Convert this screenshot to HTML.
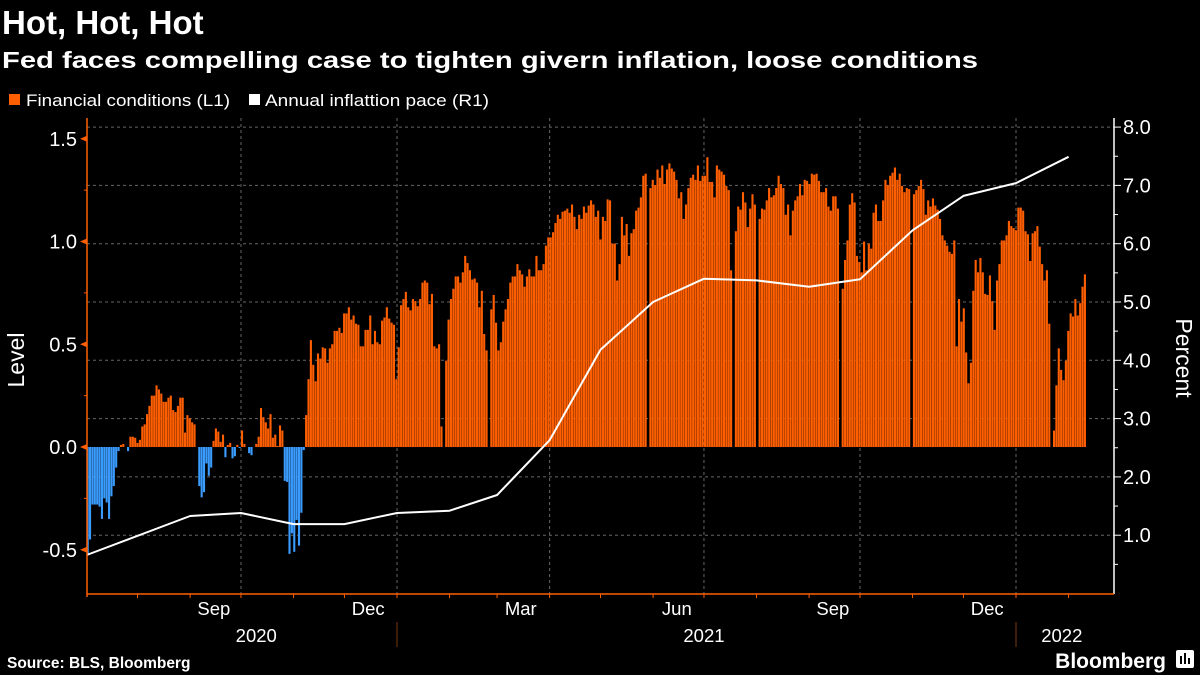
<!DOCTYPE html>
<html><head><meta charset="utf-8"><style>
html,body{margin:0;padding:0;background:#000;}
svg{display:block;font-family:"Liberation Sans",sans-serif;}
</style></head><body>
<svg id="chart" width="1200" height="675" viewBox="0 0 1200 675" xmlns="http://www.w3.org/2000/svg">
<rect width="1200" height="675" fill="#000"/>
<text x="2" y="34" fill="#fff" font-size="33" font-weight="bold">Hot, Hot, Hot</text>
<text x="2" y="68" fill="#fff" font-size="23.5" font-weight="bold" textLength="976" lengthAdjust="spacingAndGlyphs">Fed faces compelling case to tighten givern inflation, loose conditions</text>
<g>
<g><rect x="9" y="94" width="11" height="11" fill="#ff5f00"/><text x="26" y="106" fill="#fff" font-size="16.5" textLength="204" lengthAdjust="spacingAndGlyphs">Financial conditions (L1)</text></g>
<g><rect x="249" y="94" width="11" height="11" fill="#fff"/><text x="265" y="106" fill="#fff" font-size="16.5" textLength="224" lengthAdjust="spacingAndGlyphs">Annual inflattion pace (R1)</text></g>
</g>
<g id="grid"></g>
<g id="bars"></g>
<g id="line"></g>
<g id="axes"></g>
<text transform="translate(24,360) rotate(-90)" text-anchor="middle" fill="#fff" font-size="23">Level</text>
<text transform="translate(1176,358) rotate(90)" text-anchor="middle" fill="#fff" font-size="23">Percent</text>
<text x="7" y="668" fill="#fff" font-size="15.5" font-weight="bold">Source: BLS, Bloomberg</text>
<text x="1166" y="668" text-anchor="end" fill="#fff" font-size="21" font-weight="bold">Bloomberg</text>
<g><rect x="1176" y="650" width="18" height="18" rx="2" fill="#fff"/><rect x="1180" y="656" width="2" height="8" fill="#000"/><rect x="1184" y="653" width="2" height="11" fill="#000"/><rect x="1188" y="658" width="2" height="6" fill="#000"/></g>
</svg>
<script>
const fciValues = [-0.52,-0.45,-0.28,-0.28,-0.28,-0.29,-0.35,-0.25,-0.27,-0.35,-0.24,-0.19,-0.10,-0.02,0.01,0.015,0,-0.02,0.05,0.05,0.045,0.02,0.035,0.10,0.11,0.16,0.20,0.25,0.25,0.30,0.28,0.26,0.22,0.22,0.24,0.25,0.18,0.17,0.20,0.24,0.24,0.07,0.155,0.14,0.12,0.11,0,-0.19,-0.245,-0.22,-0.08,-0.14,-0.10,0.03,0.09,0.075,0.025,0.06,-0.05,0.01,0.02,-0.055,-0.045,0.01,-0.005,0.08,0.015,0,-0.03,-0.04,0,0.015,0.05,0.19,0.145,0.12,0.09,0.16,0.045,0.06,0.005,0.105,0.08,-0.165,-0.17,-0.52,-0.42,-0.51,-0.355,-0.48,-0.32,-0.015,0.155,0.33,0.52,0.40,0.32,0.455,0.43,0.485,0.48,0.41,0.48,0.50,0.565,0.565,0.58,0.555,0.65,0.65,0.68,0.62,0.64,0.60,0.595,0.49,0.49,0.57,0.57,0.64,0.50,0.565,0.51,0.50,0.615,0.63,0.68,0.625,0.605,0.595,0.33,0.485,0.69,0.72,0.755,0.68,0.665,0.72,0.71,0.685,0.72,0.80,0.81,0.80,0.695,0.745,0.49,0.48,0.50,0.10,0,0.42,0.62,0.72,0.77,0.83,0.83,0.80,0.85,0.93,0.895,0.86,0.815,0.82,0.80,0.68,
0.76,0.55,0.47,0,0.67,0.74,0.605,0.47,0.51,0.61,0.67,0.72,0.80,0.83,0.83,0.89,0.86,0.84,0.78,0.83,0.865,0.83,0.83,0.93,0.86,0.86,0.89,0.98,1.02,1.02,1.045,1.09,1.13,1.11,1.145,1.15,1.16,1.14,1.18,1.12,1.06,1.13,1.11,1.17,1.14,1.175,1.20,1.18,1.12,1.15,1.01,1.12,1.10,1.205,1.20,0.99,0.99,0.81,0.89,1.12,1.03,1.085,0.93,1.04,1.06,1.15,1.165,1.215,1.32,1.33,0,1.26,1.30,1.275,1.35,1.31,1.37,1.28,1.35,1.38,1.355,1.34,1.30,1.21,1.24,1.11,1.18,1.26,1.31,1.325,1.30,1.37,1.295,1.32,1.32,1.41,1.29,1.29,1.215,1.37,1.35,1.34,1.325,1.27,1.25,0.86,0,1.05,1.17,1.155,1.24,1.19,1.07,1.16,1.23,1.18,0,1.11,1.16,1.155,1.20,1.26,1.215,1.225,1.26,1.32,1.28,1.26,1.13,1.18,
1.03,1.15,1.20,1.22,1.28,1.225,1.30,1.295,1.28,1.33,1.325,1.33,1.295,1.24,1.24,1.26,1.17,1.15,1.22,1.22,1.16,0,0.77,0.91,1.005,1.18,1.235,1.19,0.93,0.90,0.85,1.00,0.86,0.99,0.965,1.14,1.18,1.10,1.10,1.20,1.30,1.275,1.32,1.335,1.36,1.30,1.33,1.27,1.24,1.26,1.255,0,1.23,1.25,1.27,1.30,1.255,1.13,1.20,1.17,1.21,1.175,1.155,1.11,1.03,1.005,0.98,0.95,0.94,1.005,0.49,0.72,0.61,0.675,0.46,0.31,0.41,0.76,0.91,0.85,0.92,0.85,0.745,0.74,0.835,0.71,0.57,0.81,0.89,1.005,1.005,1.03,1.10,1.075,1.065,1.055,1.165,1.165,1.15,1.05,1.035,0.905,1.04,1.05,1.075,0.975,0.89,0.81,0.86,0.60,0,0.08,0.30,0.48,0.375,0.325,0.42,0.565,0.65,0.635,0.72,0.64,0.70,0.78,0.84];
const cpiDates = ["2020-07-02","2020-09-01","2020-10-01","2020-11-01","2020-12-01","2021-01-01","2021-02-01","2021-03-01","2021-04-01","2021-05-01","2021-06-01","2021-07-01","2021-08-01","2021-09-01","2021-10-01","2021-11-01","2021-12-01","2022-01-01","2022-02-01"];
const cpiValues = [0.66,1.33,1.38,1.19,1.19,1.38,1.42,1.69,2.63,4.18,5.0,5.40,5.37,5.26,5.39,6.23,6.82,7.04,7.49];
const leftTicks = [-0.5,0.0,0.5,1.0,1.5];
const leftTickLabels = ["-0.5","0.0","0.5","1.0","1.5"];
const rightTicks = [1,2,3,4,5,6,7,8];
const rightTickLabels = ["1.0","2.0","3.0","4.0","5.0","6.0","7.0","8.0"];
const monthLabels = ["Sep","Dec","Mar","Jun","Sep","Dec"];
const monthLabelDates = ["2020-09-15","2020-12-15","2021-03-15","2021-06-15","2021-09-15","2021-12-15"];
const yearLabels = ["2020","2021","2022"];
const yearLabelDates = ["2020-10-10","2021-07-01","2022-01-28"];
const barStartDate = "2020-07-02";
const barDaysPerStep = 1.4;

const NS="http://www.w3.org/2000/svg";
const X0=87, X1=1114, YT=118, YB=594;
const dayMs=86400000, ref=Date.UTC(2021,0,1);
function days(s){const p=s.split("-");return (Date.UTC(+p[0],+p[1]-1,+p[2])-ref)/dayMs;}
function xDate(d){return 397+d*1.6959;}
function yL(v){return 447-v*205.5;}
function yR(v){return 593.5-v*58.3;}
function mk(tag,attrs,parent){const e=document.createElementNS(NS,tag);for(const k in attrs)e.setAttribute(k,attrs[k]);parent.appendChild(e);return e;}
const grid=document.getElementById('grid'),barsG=document.getElementById('bars'),lineG=document.getElementById('line'),axes=document.getElementById('axes');
rightTicks.forEach(v=>{const l=mk('line',{x1:X0,x2:X1,y1:yR(v),y2:yR(v),stroke:'#666','stroke-width':1,'stroke-dasharray':'3,3'},grid);

});
["2020-10-01","2021-01-01","2021-04-01","2021-07-01","2021-10-01","2022-01-01"].forEach(d=>{const x=xDate(days(d));const l=mk('line',{x1:x,x2:x,y1:YT,y2:YB,stroke:'#666','stroke-width':1,'stroke-dasharray':'3,3'},grid);

});
const bs=days(barStartDate);
fciValues.forEach((v,i)=>{if(v===0)return;const x=xDate(bs+i*barDaysPerStep);const y0=yL(0),y1=yL(v);
const r=mk('rect',{x:x.toFixed(2),y:Math.min(y0,y1).toFixed(2),width:2.1,height:Math.abs(y1-y0).toFixed(2),fill:v<0?'#3b9cff':'#ff5f00'},barsG);

});
const pts=cpiValues.map((v,i)=>xDate(days(cpiDates[i])).toFixed(1)+','+yR(v).toFixed(1)).join(' ');
const pl=mk('polyline',{points:pts,fill:'none',stroke:'#fff','stroke-width':2,'stroke-linejoin':'round'},lineG);


mk('line',{x1:X0,x2:X0,y1:YT,y2:YB+3,stroke:'#ff5f00','stroke-width':1.5},axes);
for(let v=-0.5;v<=1.5;v+=0.25){mk('line',{x1:X0-3,x2:X0,y1:yL(v),y2:yL(v),stroke:'#ff5f00','stroke-width':1},axes);}
leftTicks.forEach((v,i)=>{const y=yL(v);mk('polygon',{points:`${X0-7},${y} ${X0},${y-3} ${X0},${y+3}`,fill:'#ff5f00'},axes);
const t=mk('text',{x:X0-10,y:y+7,'text-anchor':'end',fill:'#fff','font-size':20},axes);t.textContent=leftTickLabels[i];

});
mk('line',{x1:X1,x2:X1,y1:YT,y2:YB,stroke:'#fff','stroke-width':1.5},axes);
for(let v=0.5;v<=8;v+=0.5){mk('line',{x1:X1,x2:X1+(v%1===0?7:4),y1:yR(v),y2:yR(v),stroke:'#fff','stroke-width':1},axes);}
rightTicks.forEach((v,i)=>{const t=mk('text',{x:X1+9,y:yR(v)+7,fill:'#fff','font-size':20},axes);t.textContent=rightTickLabels[i];

});
mk('line',{x1:X0,x2:X1,y1:YB,y2:YB,stroke:'#ff5f00','stroke-width':1.5},axes);
for(let m=0;m<20;m++){const yy=2020+Math.floor((m+6)/12),mm=(m+6)%12+1;const d=days(`${yy}-${String(mm).padStart(2,'0')}-01`);const x=xDate(d);if(x<X0-2||x>X1)continue;
mk('line',{x1:x,x2:x,y1:YB,y2:YB+4,stroke:'#ff5f00','stroke-width':1},axes);}
monthLabels.forEach((s,i)=>{const t=mk('text',{x:xDate(days(monthLabelDates[i])),y:615,'text-anchor':'middle',fill:'#fff','font-size':18.5},axes);t.textContent=s;

});
yearLabels.forEach((s,i)=>{const t=mk('text',{x:xDate(days(yearLabelDates[i])),y:642,'text-anchor':'middle',fill:'#fff','font-size':18.5},axes);t.textContent=s;

});
["2021-01-01","2022-01-01"].forEach(d=>{const x=xDate(days(d));mk('line',{x1:x,x2:x,y1:622,y2:647,stroke:'#7a3a10','stroke-width':1},axes);});
</script>
</body></html>
